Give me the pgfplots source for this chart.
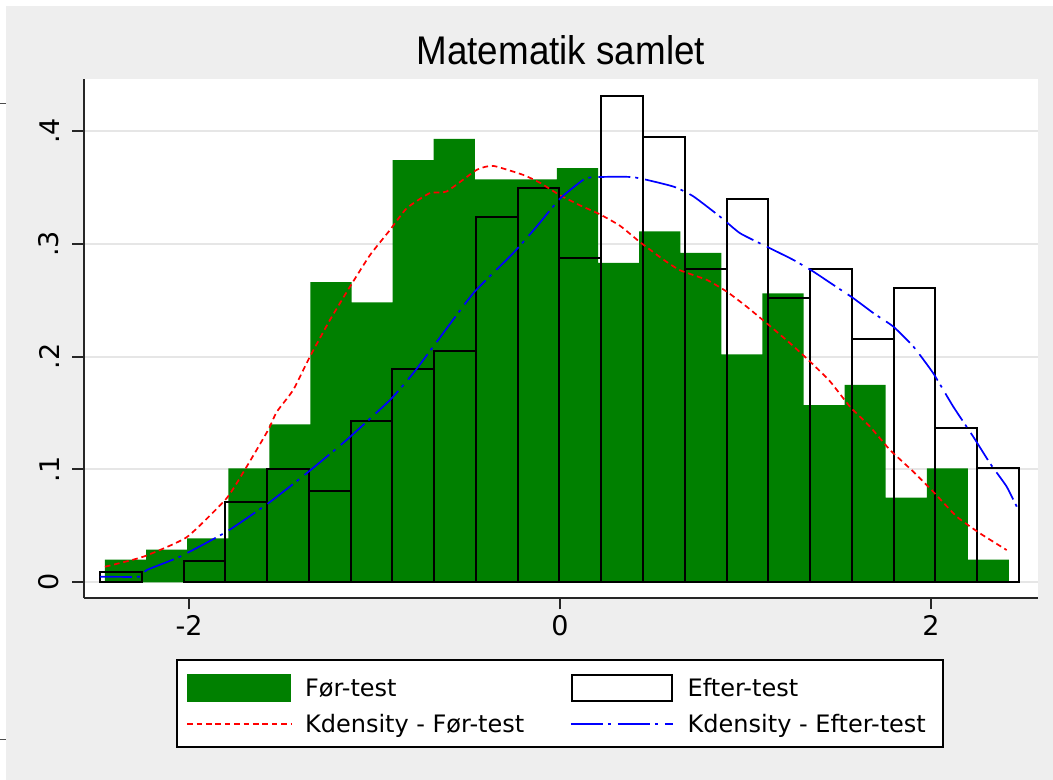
\documentclass[border=0pt]{standalone}
\usepackage{fontspec}
\setmainfont{DejaVu Sans}
\newfontfamily\titlefont{Liberation Sans}
\usepackage{graphicx}
\usepackage{pgfplots}
\pgfplotsset{compat=1.18}
\definecolor{bggray}{RGB}{238,238,238}
\definecolor{stgreen}{RGB}{0,128,0}
\definecolor{gridgray}{RGB}{230,230,230}
\begin{document}
\begin{tikzpicture}
\useasboundingbox (0,0) rectangle (526.5pt,390pt);
\fill[white] (0,0) rectangle (526.5pt,390pt);
\fill[bggray] (3pt,0) rectangle (526.5pt,387pt);
\draw[black!70, line width=0.5pt] (0,338.4pt) -- (3pt,338.4pt);
\draw[black!70, line width=0.5pt] (0,20.4pt) -- (3pt,20.4pt);
\begin{axis}[
  at={(42pt,91pt)}, anchor=south west,
  width=477pt, height=259.5pt, scale only axis,
  xmin=-2.566, xmax=2.577, ymin=-0.0139, ymax=0.446,
  axis background/.style={fill=white},
  axis lines*=left,
  axis line style={-, line width=1pt, black!85},
  tick align=outside,
  major tick length=5.75pt,
  tick style={line width=1pt, black!85},
  xtick={-2,0,2}, xticklabels={-2,0,2},
  ytick={0,0.1,0.2,0.3,0.4}, yticklabels={0,.1,.2,.3,.4},
  minor tick num=0,
  tick label style={font=\fontsize{13.5}{16}\selectfont},
  yticklabel style={xshift=-6.5pt, rotate=90, anchor=south, inner sep=0pt},
  xticklabel style={yshift=-2.8pt, anchor=north, inner sep=0pt},
  ymajorgrids, grid style={line width=1pt, gridgray},
  title={\scalebox{0.92}[1]{\titlefont\fontsize{20}{24}\selectfont Matematik samlet}},
  every axis title/.style={at={(0.4998,1)}, anchor=base, yshift=7pt, inner sep=0pt},
  legend columns=2,
  legend cell align=left,
  legend style={at={(0.499,-0.1175)}, anchor=north, draw=black, line width=1pt, fill=white,
     inner xsep=4.5pt, inner ysep=7pt, row sep=6.5pt, column sep=0pt,
     font=\fontsize{12}{14}\selectfont,
     nodes={inner sep=0pt, text height=9pt, text depth=0pt},
     /tikz/column 1/.style={column sep=6.5pt},
     /tikz/column 3/.style={column sep=7pt}},
]
% Foer-test histogram
\addplot[ybar interval, fill=stgreen, draw=none,
  legend image code/.code={\fill[stgreen] (0pt,-7pt) rectangle (52pt,7pt);}]
coordinates {
(-2.4528,0.020) (-2.2313,0.029) (-2.0098,0.039) (-1.7883,0.101) (-1.5667,0.140)
(-1.3452,0.266) (-1.1237,0.248) (-0.9022,0.374) (-0.6807,0.393) (-0.4592,0.357)
(-0.2377,0.357) (-0.0162,0.367) (0.2054,0.283) (0.4269,0.311) (0.6484,0.292)
(0.8699,0.202) (1.0914,0.256) (1.3129,0.157) (1.5345,0.175) (1.7560,0.075)
(1.9775,0.101) (2.1990,0.020) (2.4205,0)
};
\addlegendentry{\makebox[132.5pt][l]{Før-test}}
% Efter-test histogram (outlines)
\addplot[ybar interval, fill=none, draw=black, line width=1pt, forget plot]
coordinates {(-2.4798,0.0095) (-2.2546,0)};
\addplot[ybar interval, fill=none, draw=black, line width=1pt,
  legend image code/.code={\draw[black, line width=1pt, fill=white] (0.5pt,-6.5pt) rectangle (50.5pt,6.5pt);}]
coordinates {
(-2.0294,0.019) (-1.8042,0.0715) (-1.5791,0.100) (-1.3539,0.081) (-1.1287,0.143)
(-0.9035,0.189) (-0.6783,0.205) (-0.4531,0.324) (-0.2279,0.349) (-0.0027,0.287)
(0.2225,0.431) (0.4477,0.395) (0.6729,0.278) (0.8981,0.340) (1.1233,0.252)
(1.3484,0.2775) (1.5736,0.216) (1.7988,0.2606) (2.0240,0.1365) (2.2492,0.101)
(2.4744,0)
};
\addlegendentry{\makebox[123pt][l]{Efter-test}}
% Kdensity Foer-test
\addplot[red, line width=0.85pt, dash pattern=on 2.8pt off 1.9pt, smooth, tension=0.3,
  legend image code/.code={\draw[red, line width=0.85pt, dash pattern=on 2.8pt off 1.9pt] (0pt,0pt) -- (52pt,0pt);}]
coordinates {
(-2.453,0.0138) (-2.246,0.0227) (-2.012,0.040) (-1.797,0.0745) (-1.689,0.1025)
(-1.573,0.135) (-1.527,0.151) (-1.438,0.1705) (-1.348,0.200) (-1.240,0.2325)
(-1.132,0.262) (-1.024,0.290) (-0.916,0.3123) (-0.826,0.3315) (-0.701,0.345)
(-0.611,0.3463) (-0.449,0.3655) (-0.360,0.369) (-0.198,0.361) (-0.108,0.354)
(0,0.343) (0.108,0.334) (0.216,0.326) (0.323,0.316) (0.431,0.3015)
(0.557,0.286) (0.647,0.2765) (0.791,0.268) (0.899,0.2576) (1.006,0.2443)
(1.114,0.2296) (1.240,0.2119) (1.348,0.1956) (1.456,0.178) (1.563,0.1557)
(1.671,0.138) (1.779,0.1173) (1.905,0.098) (2.012,0.0803) (2.139,0.0582)
(2.264,0.0434) (2.408,0.0286)
};
\addlegendentry{\makebox[132.5pt][l]{Kdensity - Før-test}}
% Kdensity Efter-test
\addplot[blue, line width=0.85pt, dash pattern=on 16pt off 2.5pt on 1.5pt off 3.5pt, smooth, tension=0.3,
  legend image code/.code={\draw[blue, line width=0.85pt, dash pattern=on 16pt off 2.5pt on 1.5pt off 3.5pt] (0pt,0pt) -- (51pt,0pt);}]
coordinates {
(-2.480,0.005) (-2.264,0.005) (-2.228,0.0109) (-2.049,0.0227) (-1.797,0.0449)
(-1.573,0.070) (-1.366,0.0966) (-1.150,0.1262) (-0.916,0.1616) (-0.791,0.1853)
(-0.683,0.2089) (-0.467,0.2562) (-0.252,0.2917) (-0.126,0.3152) (0,0.340)
(0.126,0.3567) (0.180,0.359) (0.395,0.359) (0.611,0.3507) (0.719,0.342)
(0.863,0.324) (0.970,0.3094) (1.114,0.2975) (1.258,0.2857) (1.366,0.2753)
(1.473,0.2636) (1.581,0.2518) (1.690,0.2385) (1.797,0.2266) (1.905,0.2089)
(2.012,0.1853) (2.120,0.1557) (2.228,0.129) (2.318,0.1055) (2.408,0.0848)
(2.471,0.0641)
};
\addlegendentry{\makebox[123pt][l]{Kdensity - Efter-test}}
\end{axis}
\end{tikzpicture}
\end{document}
